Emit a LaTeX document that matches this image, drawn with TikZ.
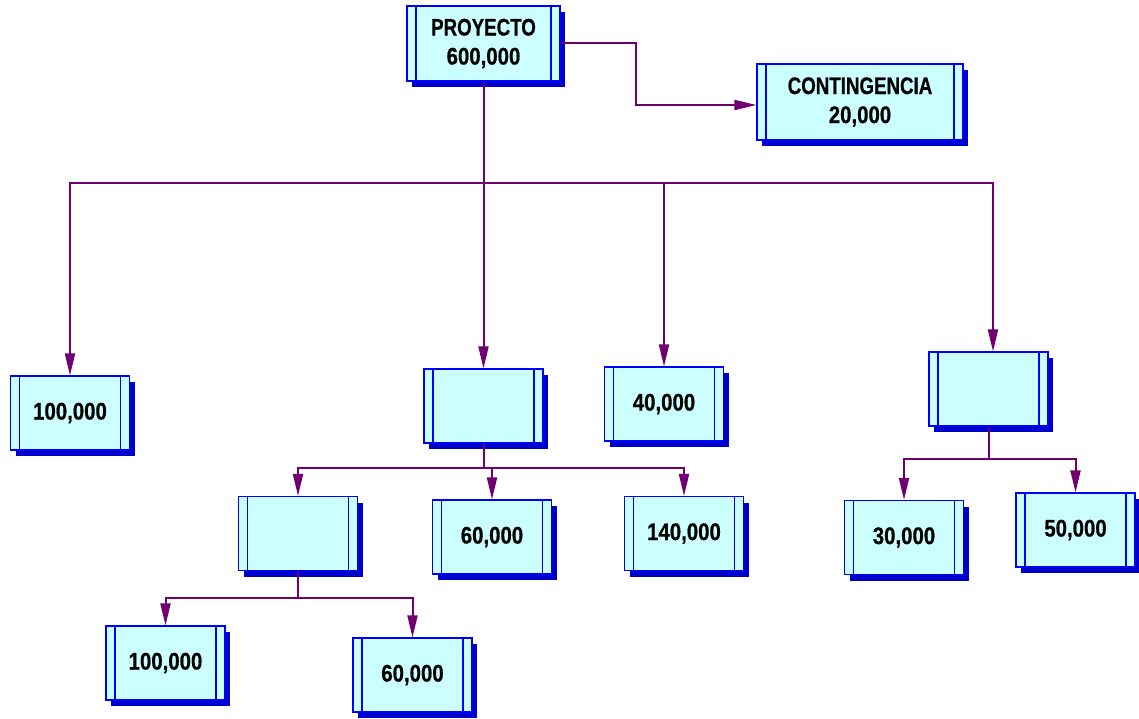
\documentclass[tikz,border=0pt]{standalone}
\usepackage{fontspec}
\setmainfont{Liberation Sans}[FakeStretch=0.85,BoldFeatures={FakeBold=0.6}]
\newfontfamily\capfont{Liberation Sans}[FakeStretch=0.78,BoldFeatures={FakeBold=0.6}]
\usetikzlibrary{arrows.meta,shadows}
\definecolor{boxfill}{RGB}{204,255,255}
\definecolor{boxline}{RGB}{0,0,255}
\definecolor{shadowc}{RGB}{0,0,204}
\definecolor{linec}{RGB}{112,0,112}
\tikzset{
 wbs/.style={draw=boxline, line width=1.2pt, fill=boxfill,
   minimum width=119pt, minimum height=74pt, inner sep=0pt, align=center,
   font=\fontsize{24}{29}\selectfont\bfseries,
   drop shadow={shadow xshift=5pt, shadow yshift=-6pt, fill=shadowc, opacity=1},
   path picture={\draw[boxline, line width=1.2pt]
     ([xshift=9pt]path picture bounding box.north west) -- ([xshift=9pt]path picture bounding box.south west)
     ([xshift=-9pt]path picture bounding box.north east) -- ([xshift=-9pt]path picture bounding box.south east);}},
 conn/.style={draw=linec, line width=2pt},
 arr/.style={conn, -{Triangle[length=22pt,width=10pt]}},
}
\begin{document}
\begin{tikzpicture}[x=1pt,y=-1pt]
\useasboundingbox (0,0) rectangle (1139,719);
% nodes
\node[wbs, minimum width=153pt, minimum height=75pt] (P) at (483.5,43.5) {{\capfont PROYECTO}\\600,000};
\node[wbs, minimum width=206pt, minimum height=76pt] (C) at (860,102) {{\capfont CONTINGENCIA}\\20,000};
\node[wbs] (A) at (70,413) {100,000};
\node[wbs] (B) at (483.5,406) {};
\node[wbs] (D) at (664,404) {40,000};
\node[wbs] (E) at (988.5,389) {};
\node[wbs] (F) at (298,533.5) {};
\node[wbs] (G) at (492,537) {60,000};
\node[wbs] (H) at (684,533.5) {140,000};
\node[wbs] (I) at (904,537.5) {30,000};
\node[wbs] (J) at (1075.5,530) {50,000};
\node[wbs] (K) at (165.5,663) {100,000};
\node[wbs] (L) at (412.5,675) {60,000};
% connectors
\coordinate (b1) at (P.south |- 0,183);
\draw[conn] (P.south) -- (b1);
\draw[arr] (b1) -| (A.north);
\draw[arr] (b1) -| (B.north);
\draw[arr] (b1) -| (D.north);
\draw[arr] (b1) -| ([xshift=4.5pt]E.north);
\draw[arr] (P.east) -- ++(75,0) |- ([yshift=-3pt]C.west);
\coordinate (b2) at (B.south |- 0,468);
\draw[conn] (B.south) -- (b2);
\draw[arr] (b2) -| (F.north);
\draw[arr] (b2) -| (G.north);
\draw[arr] (b2) -| (H.north);
\coordinate (b3) at (E.south |- 0,459);
\draw[conn] (E.south) -- (b3);
\draw[arr] (b3) -| (I.north);
\draw[arr] (b3) -| (J.north);
\coordinate (b4) at (F.south |- 0,598);
\draw[conn] (F.south) -- (b4);
\draw[arr] (b4) -| (K.north);
\draw[arr] (b4) -| (L.north);
\end{tikzpicture}
\end{document}
